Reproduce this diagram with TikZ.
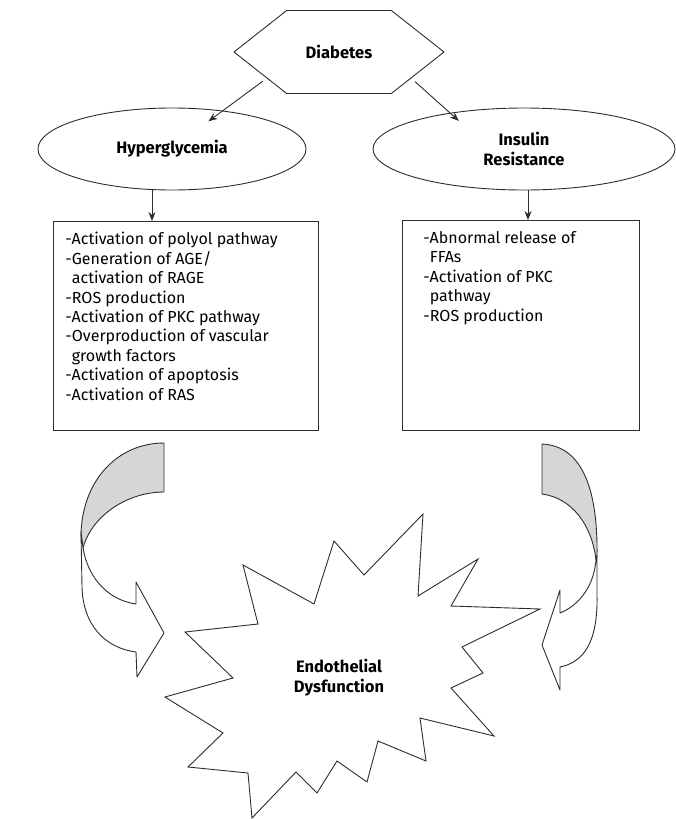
\documentclass[tikz,border=0pt]{standalone}
\usepackage{fontspec}
\setmainfont{Fira Sans}
\usepackage{tikz}
\definecolor{inkgray}{RGB}{45, 45, 45}
\definecolor{shadegray}{RGB}{214, 214, 214}
\usetikzlibrary{shapes,arrows.meta,positioning,calc}
\newcommand{\boxtext}[3]{\begin{minipage}[t][#1][t]{#2}\raggedright #3\end{minipage}}

\begin{document}
\begin{tikzpicture}[
    x=1pt, y=-1pt,
    line width=0.9pt, draw=inkgray,
    >={Stealth[length=9pt,width=7pt]},
    title/.style={font=\fontsize{16.5}{20}\selectfont\bfseries, align=center, text=black},
    cause/.style={ellipse, draw, minimum height=82pt, inner sep=0pt, title},
    listbox/.style={rectangle, draw, anchor=north west, inner ysep=11pt, font=\fontsize{16}{19.4}\selectfont, text=black},
    link/.style={->, draw=inkgray},
    curlback/.style={draw=inkgray, fill=shadegray, line join=round},
    curlfront/.style={draw=inkgray, fill=white, line join=round}
]
    \useasboundingbox (0,0) rectangle (676,819);

    % Top
    \node[signal, signal to=east and west, signal pointer angle=76.5, draw,
          minimum width=210pt, minimum height=83pt, inner sep=0pt, title] (diab) at (339,52) {Diabetes};

    % Causes
    \node[cause, minimum width=268pt] (hyper) at (172,149) {Hyperglycemia};
    \node[cause, minimum width=302pt] (insulin) at (524,149) {Insulin\\Resistance};

    \draw[link, shorten <=5pt, shorten >=-18pt] (diab.200) -- (hyper.37);
    \draw[link, shorten <=5pt, shorten >=-12pt] (diab.340) -- (insulin.154);

    % Mechanisms
    \node[listbox, inner xsep=12pt] (hbox) at (53,221) {\boxtext{187pt}{241pt}{%
        -Activation of polyol pathway\\
        -Generation of AGE/\\
        \phantom{-}activation of RAGE\\
        -ROS production\\
        -Activation of PKC pathway\\
        -Overproduction of vascular\\
        \phantom{-}growth factors\\
        -Activation of apoptosis\\
        -Activation of RAS}};
    \node[listbox, inner xsep=21pt] (ibox) at (402,220) {\boxtext{188pt}{195pt}{%
        -Abnormal release of\\
        \phantom{-}FFAs\\
        -Activation of PKC\\
        \phantom{-}pathway\\
        -ROS production}};

    \draw[link] ([xshift=-20pt]hyper.south) -- ([xshift=-20pt]hyper.south |- hbox.north);
    \draw[link] ([xshift=4pt]insulin.south) -- ([xshift=4pt]insulin.south |- ibox.north);

    % Curved arrows
    \draw[curlback] (164,443) -- (164,492) .. controls (128,492) and (92,515) .. (83,548)
        -- (81,535) .. controls (82,480) and (118,443) .. (164,443) -- cycle;
    \draw[curlfront] (81,532) -- (82,587) .. controls (83,625) and (105,648) .. (136,652)
        -- (137,677) -- (164,633) -- (136,582) -- (136,604)
        .. controls (108,600) and (88,578) .. (83,548) -- cycle;

    \draw[curlback] (542,444) -- (542,494) .. controls (572,498) and (592,525) .. (596,560)
        -- (597,557) .. controls (598,495) and (585,446) .. (542,444) -- cycle;
    \draw[curlfront] (597,555) -- (597,595) .. controls (598,640) and (585,662) .. (560,667)
        -- (560,690) -- (542,645) -- (560,590) -- (560,613)
        .. controls (580,605) and (594,585) .. (596,560) -- cycle;

    % Endothelial dysfunction
    \draw[line join=miter] (423,514) -- (418,596) -- (478,559) -- (451,606) -- (540,609)
        -- (462,647) -- (483,673) -- (451,688) -- (494,736) -- (420,718)
        -- (426,761) -- (378,741) -- (367,782) -- (337,761) -- (317,793)
        -- (296,772) -- (252,818) -- (248,773) -- (188,767) -- (223,733)
        -- (165,697) -- (233,678) -- (185,632) -- (258,624) -- (243,565)
        -- (314,604) -- (334,541) -- (364,575) -- cycle;
    \node[title] (endo) at (339,678) {Endothelial\\Dysfunction};
\end{tikzpicture}
\end{document}
